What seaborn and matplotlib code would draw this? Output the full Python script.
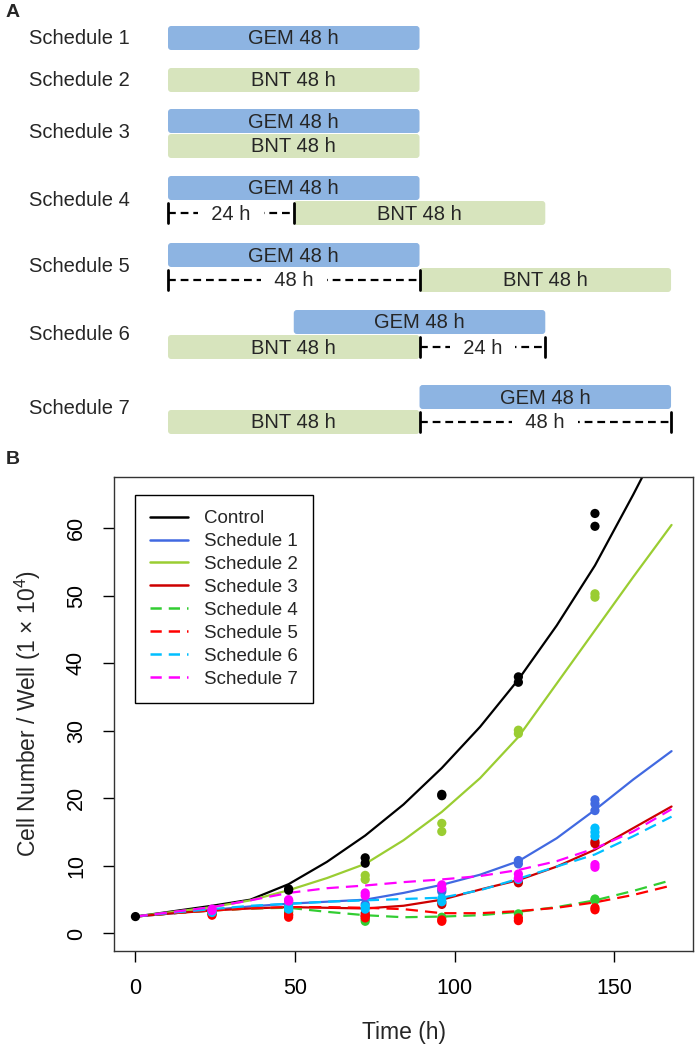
import numpy as np
import pandas as pd
import seaborn as sns
from matplotlib import pyplot as plt
from matplotlib.patches import FancyBboxPatch
from matplotlib.lines import Line2D

# ---- panel A: treatment schedules ----
schedule_names = ["Schedule %d" % i for i in range(1, 8)]
gem_start = [0, None, 0, 0, 0, 24, 48]     # h
bnt_start = [None, 0, 0, 24, 48, 0, 0]     # h
drug_hours = 48
gap_from = [None, None, None, 0, 0, 48, 48]
gap_to = [None, None, None, 24, 48, 72, 96]

# ---- panel B: growth data ----
groups = ["Control"] + schedule_names
obs_times = [0, 24, 48, 72, 96, 120, 144]
obs_control = [[2.5], [3.0, 3.2], [6.4, 6.6], [10.4, 11.2], [20.4, 20.6], [37.2, 38.0], [60.3, 62.2]]
obs_s1 = [[], [3.1], [4.0], [4.3], [6.2, 6.5], [10.3, 10.8], [18.2, 19.2, 19.8]]
obs_s2 = [[], [3.2], [4.8], [8.0, 8.6], [15.1, 16.3], [29.6, 30.1], [49.8, 50.3]]
obs_s3 = [[], [2.9], [2.8, 3.2], [2.6, 3.0], [4.3, 4.6], [7.5, 7.8], [13.3, 13.6]]
obs_s4 = [[], [3.0], [3.4], [1.8, 2.1], [2.4], [2.9], [4.9, 5.1]]
obs_s5 = [[], [2.7], [2.4, 2.7], [2.3, 2.6], [1.8, 2.0], [1.9, 2.3], [3.5, 3.8]]
obs_s6 = [[], [3.1], [3.6, 3.9], [3.6, 4.0], [4.7, 5.2], [8.0], [14.4, 15.0, 15.6]]
obs_s7 = [[], [3.4, 3.6], [4.8, 5.0], [5.6, 6.0], [6.7, 7.2], [8.2, 8.8], [9.8, 10.2]]

fit_time = [0, 12, 24, 36, 48, 60, 72, 84, 96, 108, 120, 132, 144, 156, 168]
fit_control = [2.5, 3.3, 4.1, 5.0, 7.3, 10.6, 14.5, 19.1, 24.5, 30.6, 37.6, 45.6, 54.5, 65.0, 76.0]
fit_s1 = [2.5, 3.0, 3.5, 4.0, 4.4, 4.7, 5.0, 6.0, 7.2, 8.7, 10.7, 14.1, 18.3, 22.8, 27.0]
fit_s2 = [2.5, 3.2, 3.9, 4.9, 6.4, 8.2, 10.3, 13.8, 18.0, 23.0, 29.1, 37.0, 44.9, 52.8, 60.5]
fit_s3 = [2.5, 3.0, 3.4, 3.7, 3.9, 3.8, 3.7, 4.1, 5.0, 6.5, 7.9, 9.9, 12.4, 15.6, 18.8]
fit_s4 = [2.5, 3.0, 3.4, 3.7, 3.8, 3.2, 2.7, 2.4, 2.5, 2.7, 3.2, 3.9, 4.9, 6.3, 7.9]
fit_s5 = [2.5, 3.0, 3.4, 3.7, 3.9, 3.9, 3.8, 3.6, 3.0, 3.0, 3.3, 3.8, 4.6, 5.7, 7.1]
fit_s6 = [2.5, 3.1, 3.6, 4.1, 4.4, 4.7, 4.9, 5.1, 5.3, 6.4, 8.1, 9.9, 11.7, 14.4, 17.3]
fit_s7 = [2.5, 3.2, 3.9, 4.9, 6.0, 6.7, 7.1, 7.6, 8.0, 8.5, 9.4, 10.7, 12.6, 15.1, 18.4]

colors = ["black", "#4169E1", "#9ACD32", "#CD0000", "#32CD32", "#FF0000", "#00BFFF", "#FF00FF"]
dashed = [False, False, False, False, True, True, True, True]

sns.set_style("white")
plt.rcParams["font.family"] = ["Liberation Sans", "DejaVu Sans"]
plt.rcParams["mathtext.fontset"] = "custom"
plt.rcParams["mathtext.rm"] = "Liberation Sans"
plt.rcParams["mathtext.it"] = "Liberation Sans"

W, H = 695, 1046
fig = plt.figure(figsize=(W / 100, H / 100), dpi=100)

# ======== panel A ========
pxh = 5.24          # pixels per hour
x0px = 168          # pixel of t = 0
topA = 460
axA = fig.add_axes([0, 1 - topA / H, 1, topA / H])
axA.set_xlim(-x0px / pxh, (W - x0px) / pxh)
axA.set_ylim(topA, 0)
axA.axis("off")

gem_col = "#8DB4E2"
bnt_col = "#D7E4BD"
row_top = [26, 68, 109, 176, 243, 310, 385]
bar_h = 24

def bar(ax, start, y, color, label):
	p = FancyBboxPatch((start, y), drug_hours, bar_h,
		boxstyle="round,pad=0,rounding_size=0.6", mutation_aspect=pxh,
		facecolor=color, edgecolor="none")
	ax.add_patch(p)
	ax.text(start + drug_hours / 2, y + bar_h / 2 + 1, label, ha="center", va="center", fontsize=14.5)

for i, name in enumerate(schedule_names):
	y = row_top[i]
	rows = 0
	if gem_start[i] is not None:
		bar(axA, gem_start[i], y, gem_col, "GEM %d h" % drug_hours)
		rows += 1
	if bnt_start[i] is not None:
		yb = y + rows * (bar_h + 1)
		bar(axA, bnt_start[i], yb, bnt_col, "BNT %d h" % drug_hours)
		rows += 1
	label_y = y + bar_h / 2 if rows == 1 else y + bar_h
	axA.text((29 - x0px) / pxh, label_y, name, ha="left", va="center", fontsize=14.5)
	# interval bracket on the lower row
	if gap_from[i] is not None:
		yl = y + (bar_h + 1) + bar_h / 2
		s, e = gap_from[i], gap_to[i]
		axA.plot([s, e], [yl, yl], color="black", lw=1.6, ls=(0, (3.5, 2.2)), solid_capstyle="butt")
		for xx in (s, e):
			axA.plot([xx, xx], [yl - 10, yl + 10], color="black", lw=2)
		axA.text((s + e) / 2, yl + 1, "  %d h  " % (e - s), ha="center", va="center", fontsize=14.5,
			bbox=dict(facecolor="white", edgecolor="none", pad=1.5))

fig.text(6 / W, 1 - 4 / H, "A", fontsize=14, fontweight="bold", ha="left", va="top")
fig.text(6 / W, 1 - 451 / H, "B", fontsize=14, fontweight="bold", ha="left", va="top")

# ======== panel B ========
obs_all = [obs_control, obs_s1, obs_s2, obs_s3, obs_s4, obs_s5, obs_s6, obs_s7]
fit_all = [fit_control, fit_s1, fit_s2, fit_s3, fit_s4, fit_s5, fit_s6, fit_s7]

rows = []
for g, obs in zip(groups, obs_all):
	for t, reps in zip(obs_times, obs):
		for v in reps:
			rows.append((g, t, v))
points = pd.DataFrame(rows, columns=["group", "time", "value"])

curves = pd.concat([pd.DataFrame({"group": g, "time": fit_time, "value": f})
	for g, f in zip(groups, fit_all)], ignore_index=True)

palette = dict(zip(groups, colors))
dash_map = {g: ((5.5, 3.2) if d else "") for g, d in zip(groups, dashed)}

L, R, T, B = 114, 693, 477, 951
axB = fig.add_axes([L / W, 1 - B / H, (R - L) / W, (B - T) / H])

sns.scatterplot(data=points, x="time", y="value", hue="group", palette=palette,
	hue_order=groups, s=44, linewidth=0, legend=False, ax=axB, zorder=3)
sns.lineplot(data=curves, x="time", y="value", hue="group", style="group",
	palette=palette, hue_order=groups, style_order=groups, dashes=dash_map,
	linewidth=1.6, legend=False, ax=axB, zorder=2)

axB.set_xlim(-6.72, 174.72)
axB.set_ylim(-2.6, 67.6)
axB.set_xticks([0, 50, 100, 150])
axB.set_yticks([0, 10, 20, 30, 40, 50, 60])
axB.tick_params(axis="both", direction="out", length=8, width=1, pad=11.5,
	labelsize=15.5, colors="black", bottom=True, left=True)
axB.tick_params(axis="y", labelrotation=90)
for lab in axB.get_yticklabels():
	lab.set_va("center")
for sp in axB.spines.values():
	sp.set_visible(True)
	sp.set_color("#333333")
	sp.set_linewidth(1.0)

axB.set_xlabel("Time (h)", fontsize=16.5)
axB.set_ylabel(r"Cell Number / Well (1 $\times$ 10$^{4}$)", fontsize=16.5)
axB.xaxis.set_label_coords(0.5, (B - 1033) / (B - T))
axB.xaxis.label.set_va("center")
axB.yaxis.set_label_coords((28 - L) / (R - L), 0.5)
axB.yaxis.label.set_va("center")

handles = [Line2D([], [], color=c, lw=1.8, ls=(0, (4.5, 2.8)) if d else "-")
	for c, d in zip(colors, dashed)]
leg = axB.legend(handles, groups, loc="upper left",
	bbox_to_anchor=((135 - L) / (R - L), (B - 495) / (B - T)),
	borderaxespad=0, fontsize=13.5, handlelength=2.0, handletextpad=0.9,
	borderpad=0.8, labelspacing=0.31, fancybox=False, framealpha=1)
leg.get_frame().set_edgecolor("black")
leg.get_frame().set_linewidth(1.0)

fig.savefig("out.png", dpi=100)
